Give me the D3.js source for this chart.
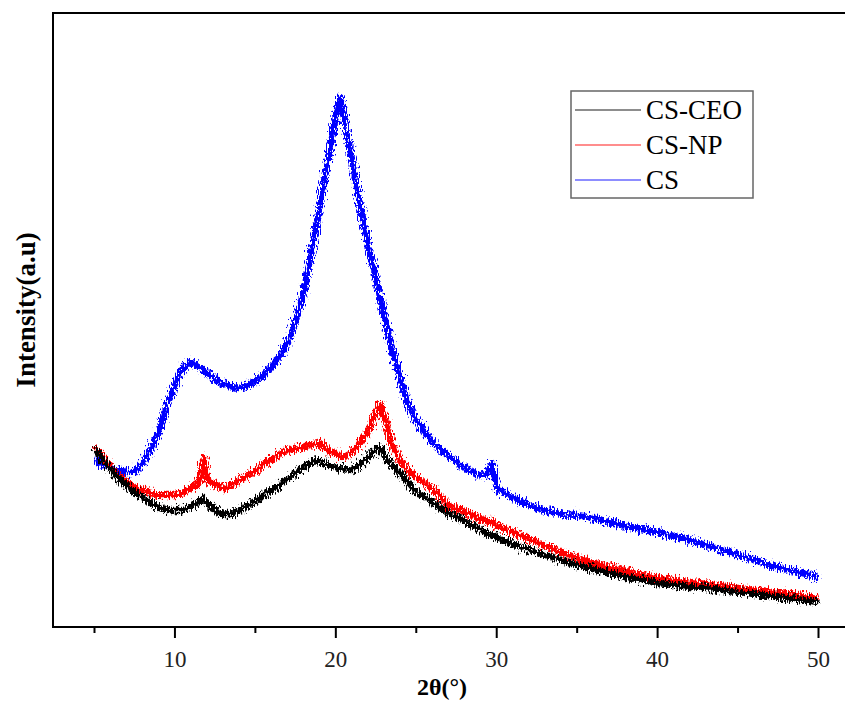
<!DOCTYPE html>
<html>
<head>
<meta charset="utf-8">
<script src="https://cdn.jsdelivr.net/npm/d3@7"></script>
<style>
  body { margin: 0; background: #fff; }
  svg { display: block; font-family: "Liberation Serif", "Times New Roman", serif; }
</style>
</head>
<body>
<div id="chart"></div>
<script>
// ---- data (intensity in arbitrary units) ----
const angles = [5, 5.5, 6, 6.5, 7, 7.5, 8, 8.5, 9, 9.5, 10, 10.5, 11, 11.5, 11.8,
  12, 12.5, 13, 13.5, 14, 14.5, 15, 15.5, 16, 16.5, 17, 17.5, 18, 18.5, 19, 19.5, 20,
  20.25, 20.5, 21, 21.5, 22, 22.5, 22.75, 23, 23.5, 24, 24.5, 25, 26, 27, 28, 29, 29.4, 29.7,
  30, 31, 32, 33, 34, 35, 36, 37, 38, 39, 40, 41, 42, 43, 44, 45, 46, 47, 48, 49, 50];

const csCEO = [179, 167, 157, 149, 141, 135, 129, 124, 120, 117, 117, 117, 121, 125, 128,
  124, 117, 113, 113, 117, 121, 126, 131, 137, 142, 148, 154, 160, 165, 166, 162, 160,
  159, 158, 157, 162, 170, 177, 179, 172, 162, 153, 144, 135, 125, 114, 106, 97, 93, 92,
  89, 83, 77, 72, 67, 62, 58, 54, 50, 47, 44, 42, 40, 39, 37, 35, 33, 31, 29, 27, 25];

const csNP = [180, 170, 160, 152, 145, 140, 137, 134, 132, 132, 132, 134, 139, 144, 169,
  147, 142, 139, 141, 146, 151, 156, 163, 168, 174, 176, 178, 180, 182, 184, 177, 173,
  171, 170, 175, 184, 195, 215, 224, 211, 182, 167, 157, 150, 138, 122, 115, 108, 105, 106,
  101, 95, 88, 81, 75, 69, 64, 60, 56, 52, 49, 47, 45, 43, 41, 39, 37, 35, 33, 31, 29];

const cs = [167, 162, 159, 157, 155, 155, 164, 177, 195, 222, 242, 259, 265, 260, 257,
  254, 248, 243, 240, 239, 241, 246, 252, 260, 270, 284, 307, 334, 377, 422, 464, 512,
  530, 512, 467, 422, 382, 347, 329, 312, 277, 249, 222, 207, 185, 171, 159, 151, 153, 164,
  139, 129, 122, 116, 113, 112, 109, 105, 101, 98, 95, 91, 87, 82, 77, 72, 67, 62, 58, 54, 50];

const seriesNames = ["CS-CEO", "CS-NP", "CS"];
const seriesColors = { "CS-CEO": "#000000", "CS-NP": "#ff0000", "CS": "#0000ff" };
const seriesValues = { "CS-CEO": csCEO, "CS-NP": csNP, "CS": cs };

const xTicks = [5, 10, 15, 20, 25, 30, 35, 40, 45, 50];
const xTickLabels = [10, 20, 30, 40, 50];

// ---- layout ----
const width = 845, height = 702;
const margin = { left: 53, top: 13 };
const innerWidth = 848 - margin.left;   // frame runs off the right edge
const innerHeight = 627 - margin.top;

const svg = d3.select("#chart").append("svg")
  .attr("width", width)
  .attr("height", height);

// jitter texture for the noisy diffraction traces
const defs = svg.append("defs");
const noise = defs.append("filter")
  .attr("id", "noisy")
  .attr("filterUnits", "userSpaceOnUse")
  .attr("x", 0).attr("y", 0)
  .attr("width", width).attr("height", height);
noise.append("feTurbulence")
  .attr("type", "fractalNoise")
  .attr("baseFrequency", "1.1 0.25")
  .attr("numOctaves", 2)
  .attr("seed", 3)
  .attr("result", "turb");
noise.append("feDisplacementMap")
  .attr("in", "SourceGraphic")
  .attr("in2", "turb")
  .attr("scale", 13)
  .attr("xChannelSelector", "R")
  .attr("yChannelSelector", "G");

const inner = svg.append("g")
  .attr("transform", `translate(${margin.left},${margin.top})`);

const xScale = d3.scaleLinear().domain([5, 50]).range([94.5 - margin.left, 818.5 - margin.left]);
const yScale = d3.scaleLinear().domain([0, 614]).range([innerHeight, 0]);

// ---- traces ----
const line = d3.line()
  .x(d => xScale(d[0]))
  .y(d => yScale(d[1]));

const drawOrder = ["CS", "CS-NP", "CS-CEO"];
inner.selectAll(".trace")
  .data(drawOrder)
  .join("path")
  .attr("class", "trace")
  .attr("fill", "none")
  .attr("stroke", d => seriesColors[d])
  .attr("stroke-width", 6.5)
  .attr("stroke-linejoin", "round")
  .attr("filter", "url(#noisy)")
  .attr("d", d => line(angles.map((a, i) => [a, seriesValues[d][i]])));

// ---- frame ----
inner.append("rect")
  .attr("x", 0)
  .attr("y", 0)
  .attr("width", innerWidth)
  .attr("height", innerHeight)
  .attr("fill", "none")
  .attr("stroke", "#000")
  .attr("stroke-width", 2);

// ---- bottom axis ----
const xAxis = inner.append("g")
  .attr("transform", `translate(0,${innerHeight})`);

xAxis.selectAll(".tick-mark")
  .data(xTicks)
  .join("line")
  .attr("class", "tick-mark")
  .attr("x1", d => xScale(d))
  .attr("x2", d => xScale(d))
  .attr("y1", 0)
  .attr("y2", d => xTickLabels.includes(d) ? 11 : 6)
  .attr("stroke", "#000")
  .attr("stroke-width", 2);

xAxis.selectAll(".tick-label")
  .data(xTickLabels)
  .join("text")
  .attr("class", "tick-label")
  .attr("x", d => xScale(d))
  .attr("y", 40)
  .attr("text-anchor", "middle")
  .style("font-size", "23px")
  .attr("fill", "#222")
  .text(d => d);

svg.append("text")
  .attr("x", 442)
  .attr("y", 695)
  .attr("text-anchor", "middle")
  .style("font-size", "24px")
  .style("font-weight", "bold")
  .text("2θ(°)");

svg.append("text")
  .attr("transform", "rotate(-90)")
  .attr("x", -310)
  .attr("y", 35)
  .attr("text-anchor", "middle")
  .style("font-size", "27px")
  .style("font-weight", "bold")
  .text("Intensity(a.u)");

// ---- legend ----
const legend = svg.append("g")
  .attr("transform", "translate(571,91)");

legend.append("rect")
  .attr("width", 182)
  .attr("height", 107)
  .attr("fill", "#fff")
  .attr("stroke", "#666")
  .attr("stroke-width", 1.5);

const legendItem = legend.selectAll(".legend-item")
  .data(seriesNames)
  .join("g")
  .attr("class", "legend-item")
  .attr("transform", (d, i) => `translate(0, ${19 + i * 35})`);

legendItem.append("line")
  .attr("x1", 4)
  .attr("x2", 70)
  .attr("stroke", d => seriesColors[d])
  .attr("stroke-opacity", 0.6)
  .attr("stroke-width", 1.5);

legendItem.append("text")
  .attr("x", 75)
  .attr("y", 9)
  .style("font-size", "27px")
  .text(d => d);
</script>
</body>
</html>
